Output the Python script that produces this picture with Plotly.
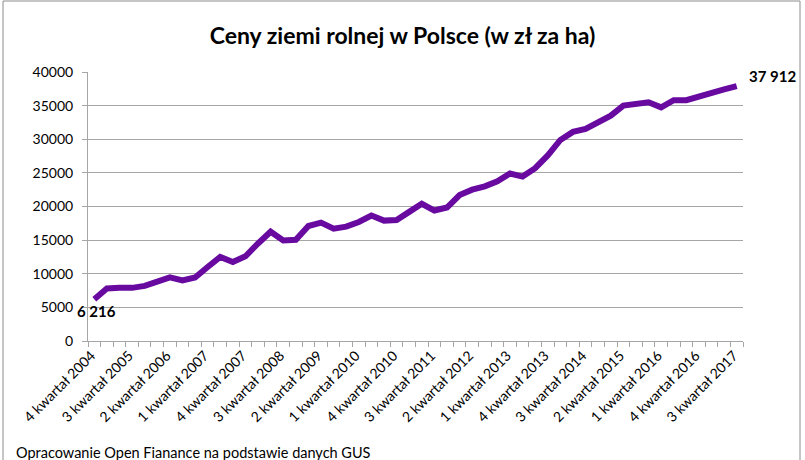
import plotly.graph_objects as go

# quarters 4Q2004 .. 3Q2017
quarters = [f"{q} kwartał {y}" for y in range(2004, 2018) for q in range(1, 5)][3:-1]

prices = [
    6216, 7800, 7900, 7900, 8200, 8750, 9450, 9000, 9450, 11000,
    12500, 11750, 12600, 14500, 16250, 14950, 15050, 17100, 17600, 16700,
    17000, 17700, 18650, 17900, 18000, 19200, 20400, 19400, 19850, 21700,
    22500, 23000, 23750, 24900, 24450, 25700, 27600, 29900, 31100, 31550,
    32500, 33500, 35000, 35250, 35500, 34750, 35800, 35800, 36400, 36900,
    37400, 37912,
]

tick_labels = quarters[::3]
y_ticks = [0, 5000, 10000, 15000, 20000, 25000, 30000, 35000, 40000]

FONT = "Lato"
GRID = "#a6a6a6"
PURPLE = "#680aa0"

fig = go.Figure()
fig.add_trace(go.Scatter(
    x=quarters,
    y=prices,
    mode="lines",
    line=dict(color=PURPLE, width=6),
    hoverinfo="x+y",
    showlegend=False,
))

# first / last value labels
fig.add_annotation(x=quarters[0], y=prices[0], text="<b>6 216</b>", showarrow=False,
                   xanchor="center", yanchor="middle", xshift=2, yshift=-12,
                   font=dict(family=FONT, size=15, color="black"))
fig.add_annotation(x=quarters[-1], y=prices[-1], text="<b>37 912</b>", showarrow=False,
                   xanchor="left", yanchor="middle", xshift=10, yshift=10,
                   font=dict(family=FONT, size=15, color="black"))

fig.update_layout(
    width=805,
    height=460,
    margin=dict(l=88, r=62, t=72, b=119),
    paper_bgcolor="white",
    plot_bgcolor="white",
    font=dict(family=FONT, size=14, color="black"),
    title=dict(text="<b>Ceny ziemi rolnej w Polsce (w zł za ha)</b>",
               x=0.5, xanchor="center", y=0.922, yanchor="middle",
               font=dict(family=FONT, size=23, color="black")),
    xaxis=dict(
        type="category",
        categoryorder="array",
        categoryarray=quarters,
        range=[-0.5, len(quarters) - 0.5],
        tickmode="array",
        tickvals=tick_labels,
        ticktext=tick_labels,
        tickangle=-45,
        ticks="",
        ticklabelshift=-3,
        showgrid=False,
        showline=True,
        linecolor=GRID,
        linewidth=1,
        tickfont=dict(family=FONT, size=14),
    ),
    xaxis2=dict(
        overlaying="x",
        range=[-0.5, len(quarters) - 0.5],
        tickmode="linear",
        tick0=-0.5,
        dtick=1,
        ticks="outside",
        ticklen=5,
        tickcolor=GRID,
        showticklabels=False,
        showgrid=False,
        zeroline=False,
        side="bottom",
    ),
    yaxis=dict(
        range=[0, 40000],
        tickvals=y_ticks,
        ticktext=[str(v) for v in y_ticks],
        ticks="outside",
        ticklen=5,
        tickcolor=GRID,
        ticklabelstandoff=6,
        showgrid=True,
        gridcolor=GRID,
        gridwidth=1,
        zeroline=False,
        showline=True,
        linecolor=GRID,
        tickfont=dict(family=FONT, size=14),
    ),
)

# invisible trace so xaxis2 is drawn
fig.add_trace(go.Scatter(x=[-0.5, len(quarters) - 0.5], y=[None, None], xaxis="x2",
                         showlegend=False, hoverinfo="skip"))

fig.add_annotation(text="Opracowanie Open Fianance na podstawie danych GUS",
                   xref="paper", yref="paper", x=(14 - 88) / 655, y=-(452 - 341) / 269,
                   xanchor="left", yanchor="middle", showarrow=False,
                   font=dict(family=FONT, size=14.5, color="black"))

# chart frame
bx0, bx1, by1 = (3 - 88) / 655, (800 - 88) / 655, (341 - 1) / 269
for x0, y0, x1, y1 in [(bx0, -1.0, bx0, by1), (bx0, by1, bx1, by1), (bx1, by1, bx1, -1.0)]:
    fig.add_shape(type="line", xref="paper", yref="paper", x0=x0, y0=y0, x1=x1, y1=y1,
                  line=dict(color="#8c8c8c", width=1))

# drop the default page margin so the 805x460 figure fills the window
fig.write_html("out.html", config={"displayModeBar": False},
               post_script="document.body.style.margin='0';")
